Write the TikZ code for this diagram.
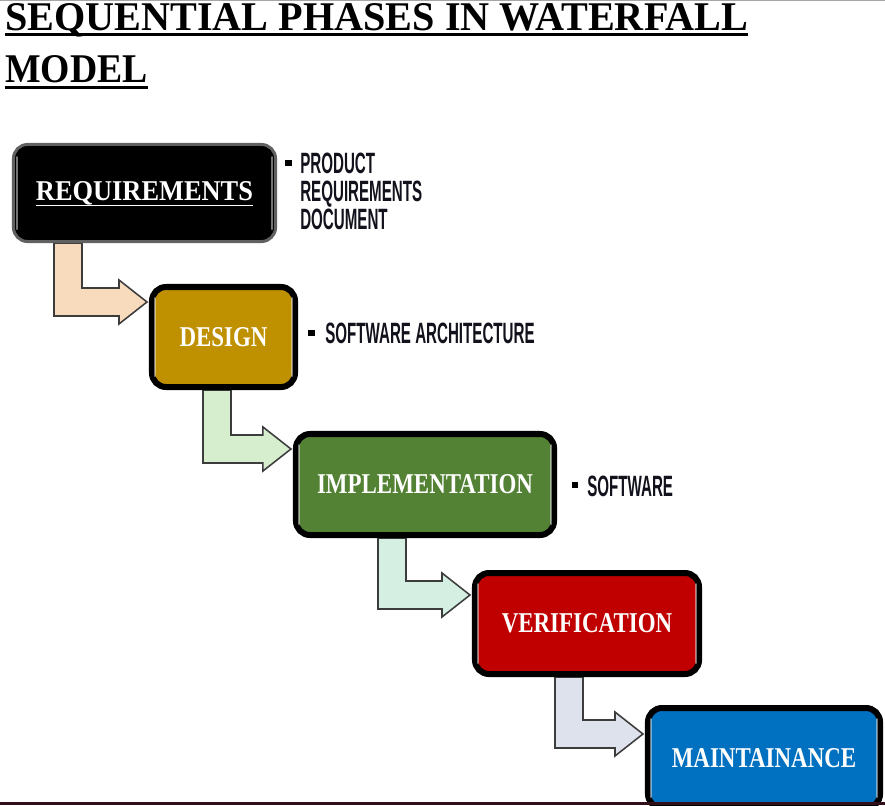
\documentclass[tikz,border=0pt]{standalone}
\usepackage{fontspec}
\setmainfont{Liberation Serif}
\newfontfamily\sidefont[FakeStretch=0.515]{Liberation Sans}
\newfontfamily\boxfont[FakeStretch=0.8]{Liberation Serif}
\usetikzlibrary{calc}
\pgfdeclarelayer{background}
\pgfsetlayers{background,main}
\definecolor{designc}{RGB}{191,144,0}
\definecolor{implc}{RGB}{84,130,53}
\definecolor{verifc}{RGB}{192,0,0}
\definecolor{maintc}{RGB}{0,112,192}
\definecolor{arrA}{RGB}{248,218,188}
\definecolor{arrB}{RGB}{214,238,205}
\definecolor{arrC}{RGB}{214,239,227}
\definecolor{arrD}{RGB}{222,226,236}
\definecolor{arrline}{RGB}{60,60,60}
\definecolor{sidec}{RGB}{18,18,28}
\definecolor{bottomc}{RGB}{50,14,24}
\tikzset{
  phase/.style={rectangle, rounded corners=10pt, draw=black, line width=4.27pt,
    inner sep=0pt, text=white, font=\boxfont\bfseries\fontsize{20.4}{24}\selectfont},
  side/.style={inner sep=0pt, align=left, text=sidec,
    font=\sidefont\bfseries\fontsize{20.9}{19.9}\selectfont},
  bul/.style={rectangle, fill=black, inner sep=0pt, minimum size=4.9pt},
  arrowshape/.style={draw=arrline, line width=1.1pt, line join=miter},
  gloss/.style={white, opacity=.45, line width=1.4pt, line cap=round},
  ttl/.style={anchor=base west, inner sep=0pt, font=\bfseries\fontsize{29}{34}\selectfont}
}
\newcommand\bentarrow[6]{% name, source, target, bar x, tip drop, colour
  \coordinate (#1-x) at (#4,0);
  \coordinate (#1-top) at (#1-x |- #2.south);
  \coordinate (#1-tip) at ($(#3.north west)+(-2,#5)$);
  \begin{pgfonlayer}{background}
  \path[arrowshape, fill=#6] (#1-top) -- ++(28,0)
    -- ($(#1-top |- #1-tip)+(28,-14)$) -- ($(#1-tip)+(-28,-14)$)
    -- ($(#1-tip)+(-28,-22)$) -- (#1-tip) -- ($(#1-tip)+(-28,22)$)
    -- ($(#1-tip)+(-28,14)$) -- ($(#1-top |- #1-tip)+(0,14)$) -- cycle;
  \end{pgfonlayer}}
\newcommand\glossy[2]{%
  \draw[gloss] ($(#1.north west)+(#2,14)$) -- ($(#1.south west)+(#2,-14)$);
  \draw[gloss] ($(#1.north east)+(-#2,14)$) -- ($(#1.south east)+(-#2,-14)$);}
\begin{document}
\begin{tikzpicture}[x=0.025cm, y=-0.025cm]
\useasboundingbox (0,0) rectangle (885,805);
\clip (0,0) rectangle (885,805);
\begin{pgfonlayer}{background}
\fill[white] (0,0) rectangle (885,805);
\end{pgfonlayer}
\draw[black!35, line width=1pt] (0,0.7) -- (885,0.7);

% title
\node[ttl] (t1) at (5,30) {\scalebox{0.985}[1]{SEQUENTIAL PHASES IN WATERFALL}};
\node[ttl] (t2) at (5,82) {\scalebox{0.925}[1]{MODEL}};
\draw[line width=2.1pt] ($(t1.base west)+(0,4.5)$) -- ($(t1.base east)+(0,4.5)$);
\draw[line width=2.1pt] ($(t2.base west)+(0,5.5)$) -- ($(t2.base east)+(0,5.5)$);

% phases
\node[phase, fill=black, draw=black!62, line width=2.13pt,
      minimum width=6.55cm, minimum height=2.425cm] (req) at (144.5,193)
  {\setbox0\hbox{\scalebox{1.15}[1]{REQUIREMENTS}}\rlap{\smash{\rule[-4.3pt]{\wd0}{1pt}}}\box0};
\node[phase, fill=designc, minimum width=3.575cm, minimum height=2.5cm] (des) at (223.5,337) {DESIGN};
\node[phase, fill=implc, minimum width=6.45cm, minimum height=2.525cm] (imp) at (425,484.5) {IMPLEMENTATION};
\node[phase, fill=verifc, minimum width=5.6cm, minimum height=2.525cm] (ver) at (587,623.5) {VERIFICATION};
\node[phase, fill=maintc, minimum width=5.8cm, minimum height=2.5cm] (mai) at (764,758) {MAINTAINANCE};

\glossy{req}{5}
\glossy{des}{6}
\glossy{imp}{6}
\glossy{ver}{6}
\glossy{mai}{6}

% connectors
\bentarrow{a1}{req}{des}{54}{18}{arrA}
\bentarrow{a2}{des}{imp}{203}{18}{arrB}
\bentarrow{a3}{imp}{ver}{378}{25}{arrC}
\bentarrow{a4}{ver}{mai}{555}{29}{arrD}

% side notes
\node[bul] (b1) at (288.5,163) {};
\node[side, anchor=north west] (s1) at (300,153) {PRODUCT\\REQUIREMENTS\\DOCUMENT};
\node[bul] (b2) at (311.5,333) {};
\node[side, anchor=base west] (s2) at (325,343) {SOFTWARE ARCHITECTURE};
\node[bul] (b3) at (575,485) {};
\node[side, anchor=base west] (s3) at (587,496) {SOFTWARE};

\draw[bottomc, line width=2.2pt] (0,803.5) -- (885,803.5);
\end{tikzpicture}
\end{document}
